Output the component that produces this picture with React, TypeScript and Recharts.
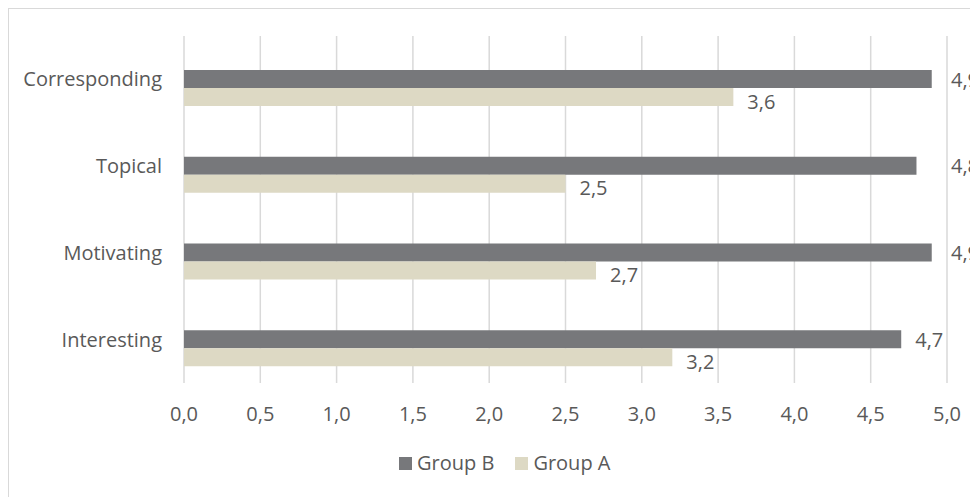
import { BarChart, Bar, XAxis, YAxis, CartesianGrid, Legend, LabelList } from 'recharts'

const categories = ['Corresponding', 'Topical', 'Motivating', 'Interesting']
const groupB = [4.9, 4.8, 4.9, 4.7]
const groupA = [3.6, 2.5, 2.7, 3.2]
const xTicks = [0, 0.5, 1, 1.5, 2, 2.5, 3, 3.5, 4, 4.5, 5]

const data = categories.map((name, i) => ({ name, b: groupB[i], a: groupA[i] }))

const TEXT = '#595959'
const GRID = '#d9d9d9'
const DARK = '#77787b'
const BEIGE = '#ddd9c4'
const FONT = '"Open Sans", sans-serif'
const FS = 20

const W = 969
const H = 488
const M = { top: 27, right: 31, left: 0, bottom: 0 }
const PLOT_RIGHT = W - M.right

const fmt = (v: number) => v.toFixed(1).replace('.', ',')

function makeLabel(dy: number) {
  return (props: any) => {
    const { x, y, width, height, value } = props
    if (value == null) return null
    let lx = Number(x) + Number(width) + 14
    // keep labels clear of the last gridline
    if (lx + 28 > PLOT_RIGHT) lx = PLOT_RIGHT + 4
    return (
      <text
        x={lx}
        y={Number(y) + Number(height) / 2 + dy}
        dominantBaseline="central"
        fill={TEXT}
        fontSize={FS}
        fontFamily={FONT}
      >
        {fmt(Number(value))}
      </text>
    )
  }
}

function LegendContent() {
  const items = [
    { label: 'Group B', color: DARK },
    { label: 'Group A', color: BEIGE },
  ]
  return (
    <div style={{ display: 'flex', alignItems: 'center', fontFamily: FONT, fontSize: FS, color: TEXT }}>
      {items.map((it, i) => (
        <div key={it.label} style={{ display: 'flex', alignItems: 'center', marginLeft: i ? 21 : 0 }}>
          <span style={{ width: 13, height: 13, background: it.color, display: 'inline-block', marginRight: 5 }} />
          <span style={{ lineHeight: '24px' }}>{it.label}</span>
        </div>
      ))}
    </div>
  )
}

export default function App() {
  return (
    <div
      style={{
        width: 969,
        height: 488,
        borderLeft: `1px solid ${GRID}`,
        borderTop: `1px solid ${GRID}`,
        background: '#fff',
      }}
    >
      <BarChart
        width={W}
        height={H}
        data={data}
        layout="vertical"
        margin={M}
        barSize={18}
        barGap={0}
      >
        <CartesianGrid vertical horizontal={false} stroke={GRID} strokeWidth={1.5} />
        <XAxis
          type="number"
          domain={[0, 5]}
          ticks={xTicks}
          tickFormatter={fmt}
          axisLine={false}
          tickLine={false}
          tickSize={0}
          tickMargin={24}
          height={114}
          interval={0}
          tick={{ fill: TEXT, fontSize: FS, fontFamily: FONT }}
        />
        <YAxis
          type="category"
          dataKey="name"
          width={175}
          axisLine={false}
          tickLine={false}
          tickSize={0}
          tickMargin={22}
          tick={{ fill: TEXT, fontSize: FS, fontFamily: FONT }}
        />
        <Legend
          layout="horizontal"
          verticalAlign="middle"
          align="center"
          content={<LegendContent />}
          wrapperStyle={{ left: 390, top: 442, width: 'auto' }}
        />
        <Bar dataKey="blank" fill="none" isAnimationActive={false} legendType="none" />
        <Bar dataKey="b" name="Group B" fill={DARK} isAnimationActive={false}>
          <LabelList dataKey="b" content={makeLabel(0)} />
        </Bar>
        <Bar dataKey="a" name="Group A" fill={BEIGE} isAnimationActive={false}>
          <LabelList dataKey="a" content={makeLabel(4)} />
        </Bar>
      </BarChart>
    </div>
  )
}
